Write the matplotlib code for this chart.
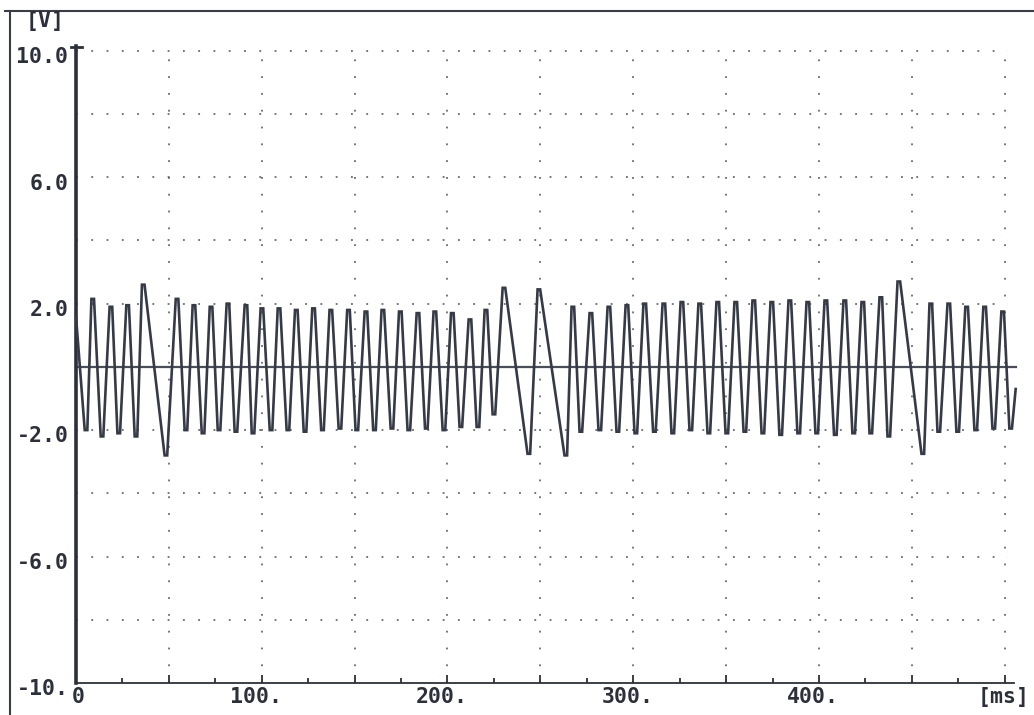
import matplotlib
matplotlib.use("Agg")
import matplotlib.pyplot as plt
from matplotlib.lines import Line2D

# Crank sensor trace: turning points of the recorded signal (time in ms, voltage in V)
trace_ms = [
    0.0, 5.4, 9.0, 14.0, 18.8, 23.0, 27.8, 32.3, 36.2, 48.4,
    54.4, 59.2, 63.5, 68.4, 72.7, 77.0, 81.8, 86.1, 91.5, 95.3,
    100.1, 105.0, 109.3, 114.1, 118.6, 123.3, 127.9, 132.7, 137.2, 142.1,
    146.7, 151.2, 156.1, 160.7, 165.2, 170.1, 174.6, 179.2, 184.1, 188.6,
    193.2, 198.1, 202.6, 207.2, 212.1, 216.4, 220.7, 225.0, 230.4, 243.8,
    249.2, 263.7, 267.5, 271.8, 277.2, 282.0, 286.9, 291.7, 296.6, 301.4,
    306.2, 311.4, 316.5, 321.3, 326.2, 331.0, 335.8, 340.7, 345.5, 350.4,
    355.2, 360.1, 364.9, 369.8, 374.6, 379.4, 384.3, 389.1, 394.0, 398.8,
    403.7, 408.8, 413.9, 418.7, 423.6, 427.9, 433.3, 437.6, 443.0, 455.9,
    460.2, 464.5, 469.9, 474.7, 479.5, 484.4, 489.2, 494.1, 498.9, 503.2,
    505.9,
]
trace_v = [
    1.6, -2.0, 2.15, -2.2, 1.9, -2.1, 1.95, -2.2, 2.6, -2.8,
    2.15, -2.0, 1.95, -2.1, 1.9, -2.0, 2.0, -2.05, 1.95, -2.1,
    1.85, -2.0, 1.85, -2.0, 1.8, -2.05, 1.85, -2.0, 1.8, -1.95,
    1.8, -2.0, 1.75, -2.0, 1.8, -1.95, 1.75, -2.0, 1.7, -1.95,
    1.75, -2.0, 1.7, -1.9, 1.5, -1.9, 1.8, -1.5, 2.5, -2.75,
    2.45, -2.8, 1.9, -2.05, 1.7, -2.0, 1.9, -2.05, 1.95, -2.1,
    2.0, -2.05, 2.0, -2.1, 2.05, -2.0, 2.0, -2.1, 2.05, -2.1,
    2.05, -2.05, 2.1, -2.1, 2.05, -2.15, 2.1, -2.1, 2.05, -2.1,
    2.1, -2.15, 2.1, -2.1, 2.05, -2.1, 2.2, -2.2, 2.7, -2.75,
    2.0, -2.05, 2.0, -2.05, 1.9, -2.0, 1.9, -1.95, 1.75, -1.95,
    -0.7,
]
# the recorder holds each extreme for about one sample period
hold_ms = 1.4

x_major = [0, 50, 100, 150, 200, 250, 300, 350, 400, 450, 500]
x_minor = [25, 75, 125, 175, 225, 275, 325, 375, 425, 475]
x_labels = {0: "0", 100: "100.", 200: "200.", 300: "300.", 400: "400."}
y_grid = [10, 8, 6, 4, 2, -2, -4, -6, -8]
y_labels = {10: "10.0", 6: "6.0", 2: "2.0", -2: "-2.0", -6: "-6.0", -10: "-10."}

INK = "#2c303a"
DOT = "#4d515b"
FONT = dict(family="DejaVu Sans Mono", fontweight="bold", fontsize=15.5, color=INK)

W, H = 1034, 715
fig = plt.figure(figsize=(W / 100, H / 100), dpi=100)
fig.patch.set_facecolor("white")

ax = fig.add_axes([76 / W, 32 / H, 938 / W, 637 / H])
ax.set_xlim(0, 505)
ax.set_ylim(-10, 10.15)
ax.set_facecolor("none")

# dotted grid
ax.hlines(y_grid, 0, 502, colors=DOT, linewidth=1.1, linestyles=(0, (1.2, 8.8)), zorder=1)
ax.vlines(x_major[1:], -10, 10, colors=DOT, linewidth=1.1, linestyles=(0, (1.2, 9.8)), zorder=1)

# zero reference line
ax.plot([0, 506], [0, 0], color="#4a4e58", linewidth=1.6, zorder=2, clip_on=False)

# signal: inner turning points drawn as short held plateaus
plot_t, plot_v = [trace_ms[0]], [trace_v[0]]
for t, v in zip(trace_ms[1:-1], trace_v[1:-1]):
    plot_t += [t - hold_ms / 2, t + hold_ms / 2]
    plot_v += [v, v]
plot_t.append(trace_ms[-1])
plot_v.append(trace_v[-1])
ax.plot(plot_t, plot_v, color="#363a46", linewidth=1.9, solid_joinstyle="miter", zorder=3, clip_on=False)

for side in ("top", "right"):
    ax.spines[side].set_visible(False)
ax.spines["left"].set_linewidth(2.6)
ax.spines["left"].set_color(INK)
ax.spines["bottom"].set_linewidth(1.3)
ax.spines["bottom"].set_color(INK)

ax.set_xticks(x_major)
ax.set_xticks(x_minor, minor=True)
ax.set_yticks([])
ax.tick_params(axis="x", which="major", direction="in", length=5.5, width=1.3, color=INK, labelbottom=False)
ax.tick_params(axis="x", which="minor", direction="in", length=3.5, width=1.3, color=INK)

# tick labels
for xv, txt in x_labels.items():
    xpos = xv + 1 if xv == 0 else xv - 3.0
    ax.text(xpos, -10.12, txt, ha="center", va="top", clip_on=False, **FONT)
for yv, txt in y_labels.items():
    ax.text(-0.008, yv - 0.2, txt, ha="right", va="center", transform=ax.get_yaxis_transform(),
            clip_on=False, **FONT)

fig.text(45 / W, 1 - 21 / H, "[V]", ha="center", va="center", **FONT)
fig.text(1004 / W, 1 - 697 / H, "[ms]", ha="center", va="center", **FONT)

# cap at the top of the voltage axis
fig.add_artist(Line2D([71 / W, 82 / W], [1 - 47 / H, 1 - 47 / H], color=INK, linewidth=2.0))

# page border
fig.add_artist(Line2D([5 / W, 1], [1 - 11 / H, 1 - 11 / H], color="#3a3d45", linewidth=1.5))
fig.add_artist(Line2D([10 / W, 10 / W], [0, 1 - 11 / H], color="#3a3d45", linewidth=1.5))

fig.savefig("out.png", dpi=100, facecolor="white")
